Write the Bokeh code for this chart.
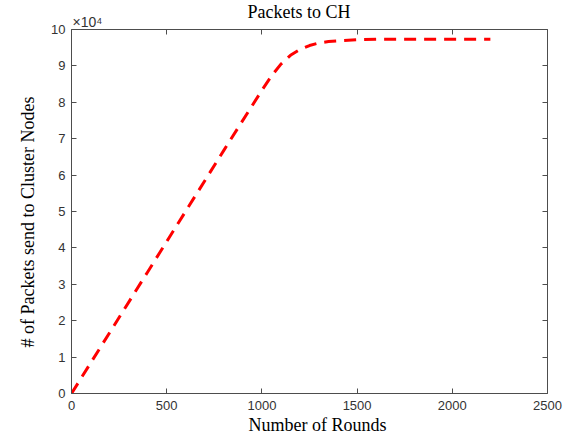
from bokeh.plotting import figure
from bokeh.models import (Range1d, LinearAxis, FixedTicker, CustomJSTickFormatter,
                          Title, ColumnDataSource)
from bokeh.embed import file_html
from bokeh.resources import INLINE

# ---- data ----
rounds = [0, 200, 400, 600, 800, 1000, 1050, 1100, 1150, 1200, 1250,
          1300, 1350, 1400, 1500, 1600, 1900, 2200]
packets = [0, 16700, 33400, 50100, 66800, 83300, 87200, 90500, 92900, 94500,
           95600, 96300, 96700, 96900, 97200, 97300, 97300, 97300]
x_ticks = [0, 500, 1000, 1500, 2000, 2500]
y_ticks = [0, 10000, 20000, 30000, 40000, 50000, 60000, 70000, 80000, 90000, 100000]
title_text = "Packets to CH"
x_label = "Number of Rounds"
y_label = "# of Packets send to Cluster Nodes"
exponent_text = "×10⁴"

SERIF = "Liberation Serif"
SANS = "Liberation Sans"
AX = "#4d4d4d"
TXT = "#333333"

p = figure(width=566, height=435, output_backend="svg", toolbar_location=None,
           x_range=Range1d(0, 2500), y_range=Range1d(0, 100000),
           x_axis_type=None, y_axis_type=None,
           min_border_left=71, min_border_right=19, min_border_top=29,
           min_border_bottom=42)
p.outline_line_color = None
p.background_fill_color = "white"
p.border_fill_color = "white"

fmt = CustomJSTickFormatter(code="return (tick/1e4).toFixed(0)")

def style(ax, show_labels, standoff):
    ax.axis_line_color = AX
    ax.axis_line_width = 1
    ax.major_tick_line_color = AX
    ax.major_tick_in = 5
    ax.major_tick_out = 0
    ax.minor_tick_line_color = None
    ax.major_label_text_font = SANS
    ax.major_label_text_color = TXT
    if show_labels:
        ax.major_label_text_font_size = "13px"
        ax.major_label_standoff = standoff
    else:
        ax.major_label_text_font_size = "0px"
        ax.major_label_standoff = 0
        ax.major_label_text_alpha = 0

xb = LinearAxis(ticker=FixedTicker(ticks=x_ticks))
style(xb, True, 7)
xt = LinearAxis(ticker=FixedTicker(ticks=x_ticks))
style(xt, False, 0)
yl = LinearAxis(ticker=FixedTicker(ticks=y_ticks), formatter=fmt)
style(yl, True, 6)
yr = LinearAxis(ticker=FixedTicker(ticks=y_ticks), formatter=fmt)
style(yr, False, 0)
p.add_layout(xb, "below")
p.add_layout(xt, "above")
p.add_layout(yl, "left")
p.add_layout(yr, "right")

src = ColumnDataSource(dict(x=rounds, y=packets))
p.line("x", "y", source=src, line_color="#ff0000", line_width=3,
       line_dash="12 8")

# exponent marker (closest to the frame), then the title above it
p.add_layout(Title(text=exponent_text, align="left", offset=1, standoff=-5,
                   vertical_align="top",
                   text_font=SANS, text_font_size="14px", text_color=TXT,
                   text_font_style="normal"), "above")
p.add_layout(Title(text=title_text, align="left", offset=176, standoff=-11,
                   vertical_align="bottom",
                   text_font=SERIF, text_font_size="18px", text_color="black",
                   text_font_style="normal"), "above")
p.add_layout(Title(text=x_label, align="left", offset=177, standoff=0,
                   text_font=SERIF, text_font_size="18px", text_color="black",
                   text_font_style="normal"), "below")
p.add_layout(Title(text=y_label, align="left", offset=46, standoff=17,
                   vertical_align="top",
                   text_font=SERIF, text_font_size="18px", text_color="black",
                   text_font_style="normal"), "left")

open("out.html", "w").write(file_html(p, INLINE))
